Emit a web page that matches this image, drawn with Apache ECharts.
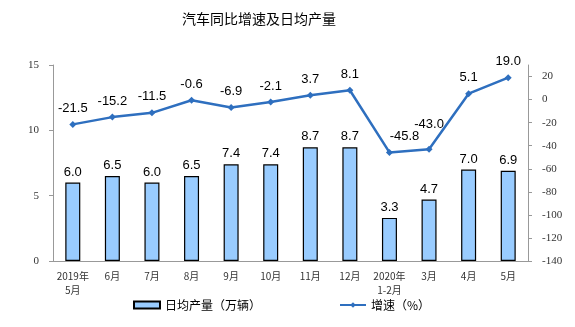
<!DOCTYPE html>
<html>
<head>
<meta charset="utf-8">
<script src="https://cdn.jsdelivr.net/npm/echarts@6/dist/echarts.min.js"></script>
<style>
  html, body { margin: 0; padding: 0; background: #fff; }
  #chart { width: 575px; height: 327px; }
</style>
</head>
<body>
<div id="chart"></div>
<script>
// Monthly periods
var categories = ['2019年\n5月', '6月', '7月', '8月', '9月', '10月', '11月', '12月', '2020年\n1-2月', '3月', '4月', '5月'];
// Average daily output (10k vehicles)
var dailyOutput = [6.0, 6.5, 6.0, 6.5, 7.4, 7.4, 8.7, 8.7, 3.3, 4.7, 7.0, 6.9];
// Year-on-year growth (%)
var growthRate = [-21.5, -15.2, -11.5, -0.6, -6.9, -2.1, 3.7, 8.1, -45.8, -43.0, 5.1, 19.0];
// Right axis tick values
var rightTicks = [-140, -120, -100, -80, -60, -40, -20, 0, 20];

var chart = echarts.init(document.getElementById('chart'), null, { renderer: 'canvas' });

var numFont = "'Liberation Serif', 'Noto Sans CJK SC', serif";
var labelFont = "'Liberation Sans', Arial, sans-serif";

// Nudge the two crowded labels around the early-2020 dip apart
var labelOffsets = { 8: [15, 0], 9: [0, -9] };
var lineData = growthRate.map(function (v, i) {
  if (labelOffsets[i]) {
    return { value: v, label: { offset: labelOffsets[i] } };
  }
  return v;
});

chart.setOption({
  animation: false,
  title: {
    text: '汽车同比增速及日均产量',
    left: 177,
    top: 7,
    textStyle: { fontFamily: "'Noto Sans CJK SC', sans-serif", fontSize: 14, fontWeight: 'normal', color: '#000' }
  },
  legend: {
    bottom: 11,
    left: 128,
    itemGap: 78,
    itemWidth: 26,
    itemHeight: 7,
    textStyle: { fontFamily: "'Noto Sans CJK SC', sans-serif", fontSize: 12, color: '#000' },
    data: [
      { name: '日均产量（万辆）', icon: 'rect' },
      { name: '增速（%）' }
    ]
  },
  grid: { left: 53, right: 47, top: 65, bottom: 66 },
  xAxis: {
    type: 'category',
    data: categories,
    axisLine: { lineStyle: { color: '#999' } },
    axisTick: { inside: true, length: 3, lineStyle: { color: '#999' } },
    axisLabel: { fontFamily: "'Noto Sans CJK SC', sans-serif", fontSize: 10, color: '#333', margin: 8, lineHeight: 14, interval: 0 }
  },
  yAxis: [
    {
      type: 'value',
      min: 0, max: 15, interval: 5,
      axisLine: { show: true, lineStyle: { color: '#999' } },
      axisTick: { show: true, length: 4, lineStyle: { color: '#999' } },
      splitLine: { show: false },
      axisLabel: { fontFamily: numFont, fontSize: 11, color: '#333', margin: 14 }
    },
    {
      type: 'value',
      min: -140, max: 30,
      position: 'right',
      axisLine: { show: true, lineStyle: { color: '#999' } },
      axisTick: { show: true, length: 4, lineStyle: { color: '#999' }, customValues: rightTicks },
      splitLine: { show: false },
      axisLabel: { fontFamily: numFont, fontSize: 11, color: '#333', margin: 14, customValues: rightTicks }
    }
  ],
  series: [
    {
      name: '日均产量（万辆）',
      type: 'bar',
      data: dailyOutput,
      yAxisIndex: 0,
      barWidth: 15,
      itemStyle: { color: '#99CCFF', borderColor: '#000', borderWidth: 1.2 },
      label: {
        show: true, position: 'top', distance: 4,
        formatter: function (p) { return p.value.toFixed(1); },
        fontFamily: labelFont, fontSize: 13, color: '#000'
      }
    },
    {
      name: '增速（%）',
      type: 'line',
      data: lineData,
      yAxisIndex: 1,
      symbol: 'diamond',
      symbolSize: 7,
      lineStyle: { color: '#2E6FBF', width: 2.5 },
      itemStyle: { color: '#2E6FBF' },
      label: {
        show: true, position: 'top', distance: 6,
        formatter: function (p) { return Number(p.value).toFixed(1); },
        fontFamily: labelFont, fontSize: 13, color: '#000'
      }
    }
  ]
});
</script>
</body>
</html>
